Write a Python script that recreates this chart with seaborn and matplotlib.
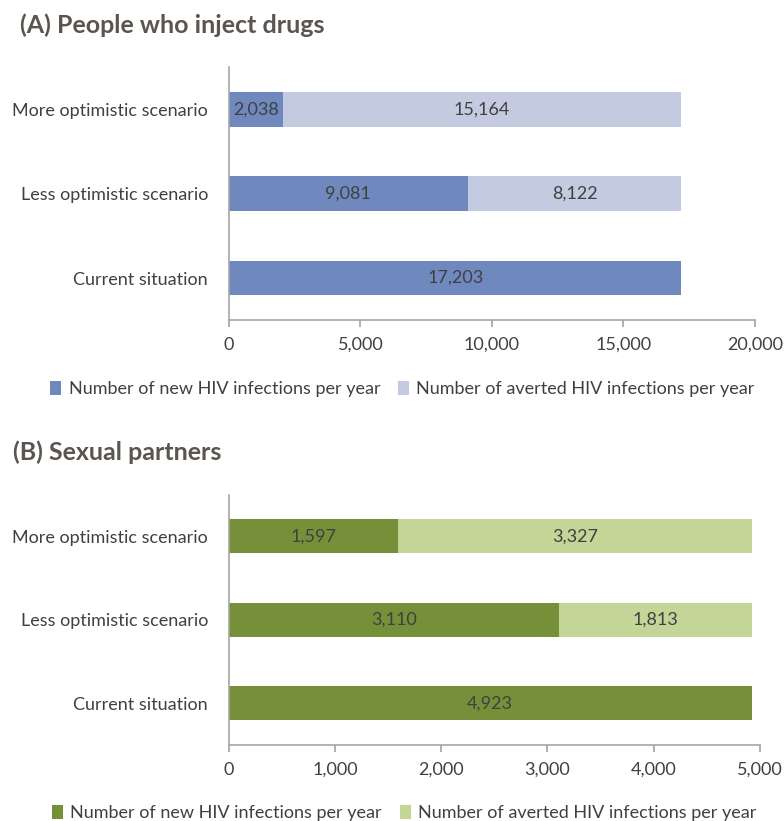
import matplotlib
matplotlib.use("Agg")
import matplotlib.pyplot as plt
import seaborn as sns
import pandas as pd
from matplotlib.patches import Patch
from matplotlib.ticker import FuncFormatter

categories = ["More optimistic scenario", "Less optimistic scenario", "Current situation"]
pwid_new = [2038, 9081, 17203]
pwid_averted = [15164, 8122, 0]
sex_new = [1597, 3110, 4923]
sex_averted = [3327, 1813, 0]
legend_labels = ["Number of new HIV infections per year", "Number of averted HIV infections per year"]
titles = ["(A) People who inject drugs", "(B) Sexual partners"]

sns.set_theme(style="white")
plt.rcParams["font.family"] = ["Lato", "DejaVu Sans"]

TEXT = "#404040"
SPINE = "#A6A6A6"
FS = 13

fig = plt.figure(figsize=(7.84, 8.21), dpi=100)
axA = fig.add_axes([0.292, 0.610, 0.671, 0.308])
axB = fig.add_axes([0.292, 0.0926, 0.677, 0.305])

def panel(ax, new, averted, dark, light, xmax, step):
    df = pd.DataFrame({"cat": categories, "new": new, "averted": averted})
    df["total"] = df["new"] + df["averted"]
    sns.barplot(data=df, x="total", y="cat", color=light, width=0.41, ax=ax,
                saturation=1, orient="h", order=categories, linewidth=0)
    sns.barplot(data=df, x="new", y="cat", color=dark, width=0.41, ax=ax,
                saturation=1, orient="h", order=categories, linewidth=0)
    for i, row in df.iterrows():
        ax.text(row["new"] / 2, i, f"{row['new']:,}", ha="center", va="center",
                color=TEXT, fontsize=FS)
        if row["averted"] > 0:
            ax.text(row["new"] + row["averted"] / 2, i, f"{row['averted']:,}",
                    ha="center", va="center", color=TEXT, fontsize=FS)
    ax.set_xlim(0, xmax)
    ax.set_ylim(2.5, -0.5)
    ax.set_xticks(range(0, xmax + 1, step))
    ax.xaxis.set_major_formatter(FuncFormatter(lambda v, p: f"{int(v):,}"))
    ax.set_xlabel("")
    ax.set_ylabel("")
    for s in ["top", "right"]:
        ax.spines[s].set_visible(False)
    for s in ["left", "bottom"]:
        ax.spines[s].set_color(SPINE)
        ax.spines[s].set_linewidth(1.2)
    ax.tick_params(axis="x", which="both", bottom=True, length=5, color=SPINE,
                   labelsize=FS, labelcolor=TEXT, pad=7)
    ax.tick_params(axis="y", left=False, labelsize=FS, labelcolor=TEXT, pad=9)
    handles = [Patch(facecolor=dark, edgecolor="none"), Patch(facecolor=light, edgecolor="none")]
    ax.legend(handles, legend_labels, loc="upper center", bbox_to_anchor=(0.33, -0.175),
              ncol=2, frameon=False, fontsize=FS, handlelength=0.6, handleheight=0.8,
              handletextpad=0.4, columnspacing=1.0, labelcolor=TEXT)

panel(axA, pwid_new, pwid_averted, "#6F89BF", "#C4CBE1", 20000, 5000)
panel(axB, sex_new, sex_averted, "#76903A", "#C4D598", 5000, 1000)

fig.text(0.025, 0.969, titles[0], fontsize=18, fontweight="bold", color="#5B5550", va="center")
fig.text(0.017, 0.449, titles[1], fontsize=18, fontweight="bold", color="#5B5550", va="center")

fig.savefig("out.png", dpi=100)
